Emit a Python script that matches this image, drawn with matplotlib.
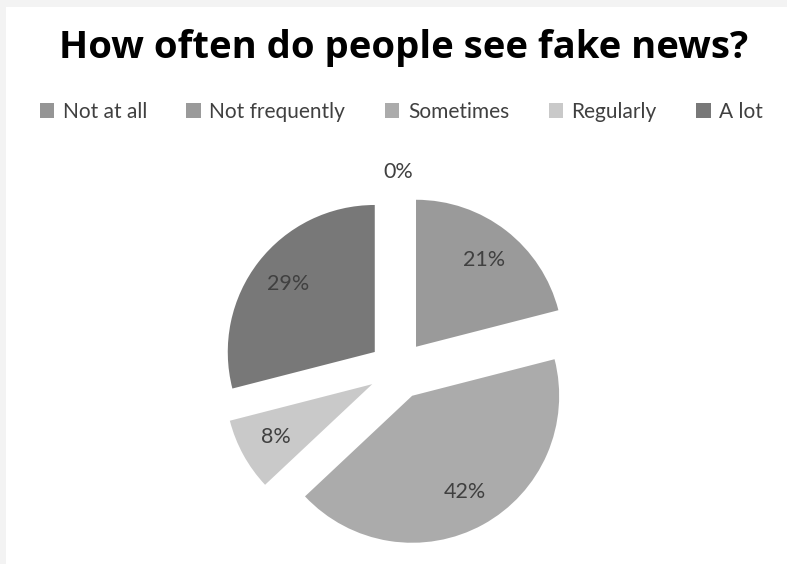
import numpy as np
import matplotlib.pyplot as plt

# data
categories = ["Not at all", "Not frequently", "Sometimes", "Regularly", "A lot"]
shares = [0, 21, 42, 8, 29]
colors = ["#959595", "#9a9a9a", "#ababab", "#c9c9c9", "#787878"]

fig = plt.figure(figsize=(7.87, 5.64), dpi=100, facecolor="#f3f3f3")
# white chart panel
fig.patches.append(plt.Rectangle((6 / 787, 0), 1, 1 - 7 / 564, transform=fig.transFigure,
                                 facecolor="white", edgecolor="none", zorder=-5))

# axes sized so that radius 1 = ~147 px, pie centre at ~(398, 370) px
pr = 147
w, h = 3 * pr / 787, 3 * pr / 564
ax = fig.add_axes([(398 - 1.5 * pr) / 787, (564 - 370 - 1.5 * pr) / 564, w, h])

wedges, texts, autotexts = ax.pie(
    shares, colors=colors, startangle=90, counterclock=False,
    explode=[0.2] * len(shares), radius=1, autopct="%1.0f%%", pctdistance=0.75,
    textprops=dict(fontsize=15.5, color="#404040", family="Lato"),
    wedgeprops=dict(linewidth=0))
ax.set_xlim(-1.5, 1.5)
ax.set_ylim(-1.5, 1.5)
ax.axis("off")

# zero slice label sits outside the pie
for wdg, t, v in zip(wedges, autotexts, shares):
    if v == 0:
        ang = np.deg2rad((wdg.theta1 + wdg.theta2) / 2)
        t.set_position((1.35 * np.cos(ang), 1.35 * np.sin(ang)))

fig.text(404 / 787, 1 - 48 / 564, "How often do people see fake news?", ha="center", va="center",
         fontsize=27.5, fontweight="bold", family="Open Sans", color="black")

fig.legend(wedges, categories, loc="center", bbox_to_anchor=(0.51, 1 - 112 / 564), ncol=5,
           frameon=False, handlelength=0.7, handleheight=0.7, handletextpad=0.4,
           columnspacing=1.9, prop=dict(family="Lato", size=15), labelcolor="#404040")

fig.savefig("out.png", dpi=100, facecolor=fig.get_facecolor())
